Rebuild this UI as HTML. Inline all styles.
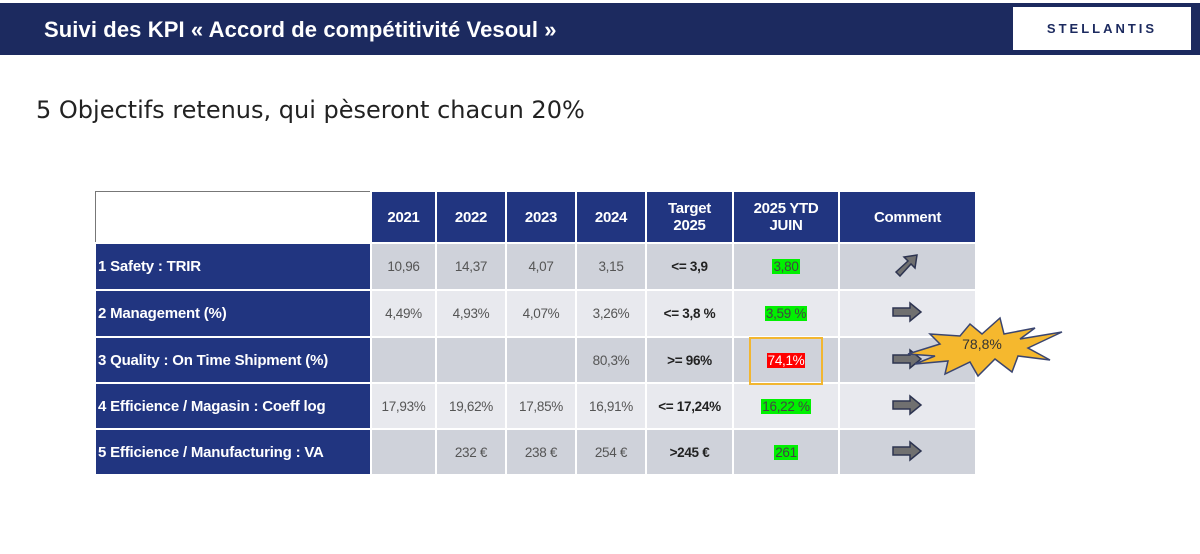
<!DOCTYPE html>
<html><head><meta charset="utf-8"><style>
body{margin:0;width:1200px;height:554px;background:#fff;position:relative;overflow:hidden;font-family:"Liberation Sans",sans-serif}
#bar{position:absolute;left:0;top:3px;width:1200px;height:52px;background:#1c2a5f}
#title{position:absolute;left:44px;top:17px;color:#fff;font-weight:bold;font-size:22px;letter-spacing:0.1px}
#logo{position:absolute;left:1013px;top:7px;width:178px;height:43px;background:#fff;color:#1c2a5f;font-size:13px;font-weight:bold;letter-spacing:3px;text-align:center;line-height:43px}
#sub{position:absolute;left:36px;top:96px;font-size:24px;color:#222;font-family:"DejaVu Sans",sans-serif}
table{position:absolute;left:94px;top:190px;border-collapse:collapse;table-layout:fixed}
td{border:2px solid #fff;text-align:center;font-size:13.5px;color:#555;padding:0;letter-spacing:-0.3px}
tr.h td{background:#213580;color:#fff;font-weight:bold;font-size:15px;height:50px;line-height:17px}
tr.h td.blank{background:#fff;border:1px solid #777}
td.lab{background:#213580;color:#fff;font-weight:bold;font-size:15px;text-align:left;padding-left:2px;letter-spacing:-0.2px}
tr.d td{background:#cfd2da}
tr.l td{background:#e8e9ee}
tr td.lab{background:#213580}
td.t{font-weight:bold;color:#222}
.g{background:#00f000;color:#444;padding:0 1px}
.r{background:#f00;color:#fff;padding:0 1px}
#box{position:absolute;left:749px;top:337px;width:70px;height:44px;border:2px solid #f2b630}
</style></head><body>
<div id="bar"></div>
<div id="title">Suivi des KPI « Accord de compétitivité  Vesoul »</div>
<div id="logo">STELLANTIS</div>
<div id="sub">5 Objectifs retenus, qui pèseront chacun 20%</div>
<table>
<colgroup><col style="width:276px"><col style="width:65px"><col style="width:70px"><col style="width:70px"><col style="width:70px"><col style="width:87px"><col style="width:106px"><col style="width:137px"></colgroup>
<tr class="h"><td class="blank"></td><td>2021</td><td>2022</td><td>2023</td><td>2024</td><td>Target<br>2025</td><td>2025 YTD<br>JUIN</td><td>Comment</td></tr>
<tr class="d" style="height:47px"><td class="lab">1 Safety : TRIR</td><td>10,96</td><td>14,37</td><td>4,07</td><td>3,15</td><td class="t">&lt;= 3,9</td><td><span class="g">3,80</span></td><td><svg width="40" height="30" viewBox="0 0 40 30"><path d="M8 22 L20 11 L16 7 L29 5 L27 18 L23 14 L12 26 Z" fill="#707070" stroke="#2d3450" stroke-width="1.5"/></svg></td></tr>
<tr class="l" style="height:47px"><td class="lab">2 Management (%)</td><td>4,49%</td><td>4,93%</td><td>4,07%</td><td>3,26%</td><td class="t">&lt;= 3,8 %</td><td><span class="g">3,59 %</span></td><td><svg width="40" height="24" viewBox="0 0 40 24"><path d="M5 8 H22 V3 L33 12 L22 21 V16 H5 Z" fill="#707070" stroke="#2d3450" stroke-width="1.5"/></svg></td></tr>
<tr class="d" style="height:46px"><td class="lab">3 Quality : On Time Shipment (%)</td><td></td><td></td><td></td><td>80,3%</td><td class="t">&gt;= 96%</td><td><span class="r">74,1%</span></td><td><svg width="40" height="24" viewBox="0 0 40 24"><path d="M5 8 H22 V3 L33 12 L22 21 V16 H5 Z" fill="#707070" stroke="#2d3450" stroke-width="1.5"/></svg></td></tr>
<tr class="l" style="height:46px"><td class="lab">4 Efficience / Magasin : Coeff log</td><td>17,93%</td><td>19,62%</td><td>17,85%</td><td>16,91%</td><td class="t">&lt;= 17,24%</td><td><span class="g">16,22 %</span></td><td><svg width="40" height="24" viewBox="0 0 40 24"><path d="M5 8 H22 V3 L33 12 L22 21 V16 H5 Z" fill="#707070" stroke="#2d3450" stroke-width="1.5"/></svg></td></tr>
<tr class="d" style="height:46px"><td class="lab">5 Efficience / Manufacturing : VA</td><td></td><td>232 €</td><td>238 €</td><td>254 €</td><td class="t">&gt;245 €</td><td><span class="g">261</span></td><td><svg width="40" height="24" viewBox="0 0 40 24"><path d="M5 8 H22 V3 L33 12 L22 21 V16 H5 Z" fill="#707070" stroke="#2d3450" stroke-width="1.5"/></svg></td></tr>
</table>
<div id="box"></div>
<svg style="position:absolute;left:900px;top:314px" width="165" height="65">
<path d="M8 40 L40 30 L30 20 L60 22 L70 10 L82 20 L100 4 L104 20 L135 14 L120 25 L162 18 L128 34 L150 46 L118 42 L112 58 L95 45 L78 62 L70 48 L45 60 L48 47 L15 50 L35 42 Z" fill="#f5b82e" stroke="#3a4570" stroke-width="1.5"/>
<text x="82" y="35" font-size="14" fill="#333" text-anchor="middle" font-family="Liberation Sans, sans-serif">78,8%</text>
</svg>
</body></html>
